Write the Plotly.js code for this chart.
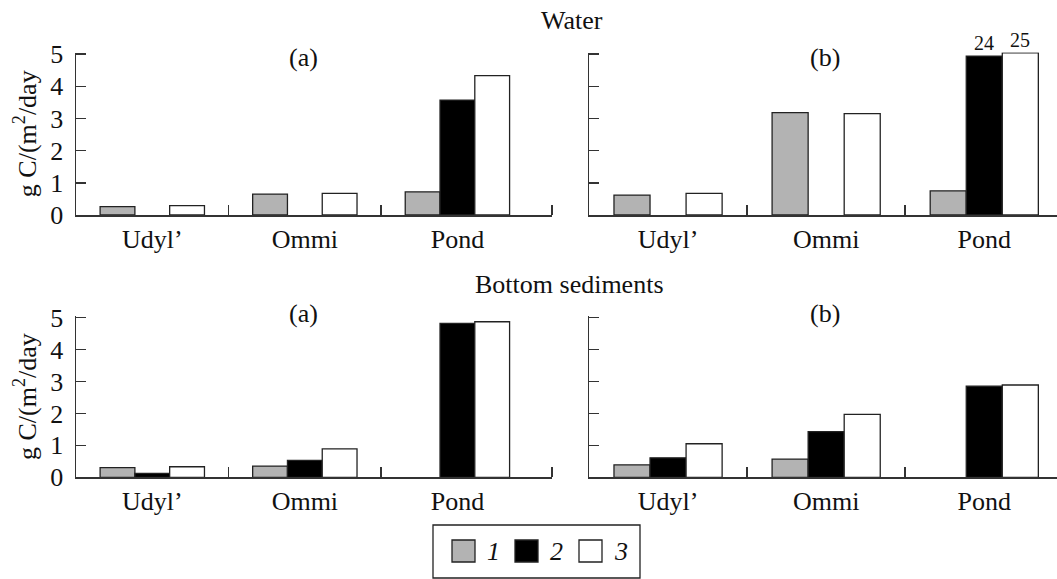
<!DOCTYPE html>
<html>
<head>
<meta charset="utf-8">
<script src="https://cdn.plot.ly/plotly-3.0.1.min.js"></script>
<style>html,body{margin:0;padding:0;background:#fff}#chart{width:1057px;height:579px}</style>
</head>
<body>
<div id="chart"></div>
<script>
// ---- data ----
var categories = ["Udyl\u2019", "Ommi", "Pond"];
var seriesNames = ["1", "2", "3"];

// Water, (a)
var waterA_s1 = [0.26, 0.65, 0.72];
var waterA_s2 = [null, null, 3.57];
var waterA_s3 = [0.29, 0.67, 4.33];
// Water, (b)  (Pond bars 2 and 3 are broken; their true values are labelled)
var waterB_s1 = [0.62, 3.18, 0.75];
var waterB_s2 = [null, null, 4.94];
var waterB_s3 = [0.67, 3.15, 5.04];
var waterB_s2_labels = [null, null, "24"];
var waterB_s3_labels = [null, null, "25"];
// Bottom sediments, (a)
var sedA_s1 = [0.30, 0.35, null];
var sedA_s2 = [0.12, 0.53, 4.82];
var sedA_s3 = [0.33, 0.89, 4.87];
// Bottom sediments, (b)
var sedB_s1 = [0.39, 0.57, null];
var sedB_s2 = [0.61, 1.43, 2.85];
var sedB_s3 = [1.05, 1.97, 2.89];

var yTickVals = [0, 1, 2, 3, 4, 5];
var yTickText = ["0", "1", "2", "3", "4", "5"];

// ---- styles ----
var FONT = '"Liberation Serif", "Times New Roman", serif';
var FS = 26;
var colors = ["#b3b3b3", "#000000", "#ffffff"];
var edge = "#222222";
var BARGAP = 0.316;
var xpos = categories.map(function (c, i) { return i; });

function bar(y, s, xa, ya) {
  return {
    type: "bar", x: xpos, y: y, xaxis: xa, yaxis: ya,
    marker: { color: colors[s], line: { color: edge, width: 1.3 } },
    showlegend: false, cliponaxis: false, hoverinfo: "y"
  };
}

var data = [
  bar(waterA_s1, 0, "x", "y"), bar(waterA_s2, 1, "x", "y"), bar(waterA_s3, 2, "x", "y"),
  bar(waterB_s1, 0, "x2", "y2"), bar(waterB_s2, 1, "x2", "y2"), bar(waterB_s3, 2, "x2", "y2"),
  bar(sedA_s1, 0, "x3", "y3"), bar(sedA_s2, 1, "x3", "y3"), bar(sedA_s3, 2, "x3", "y3"),
  bar(sedB_s1, 0, "x4", "y4"), bar(sedB_s2, 1, "x4", "y4"), bar(sedB_s3, 2, "x4", "y4")
];

var W = 1057, H = 579;
function px(x) { return x / W; }
function py(y) { return (H - y) / H; }

function xaxis(domain, range, minorVals, anchor) {
  return {
    domain: domain, range: range, anchor: anchor, type: "linear",
    tickmode: "array", tickvals: xpos, ticktext: categories, ticks: "",
    minor: { tickmode: "array", tickvals: minorVals, ticks: "inside", ticklen: 10, tickwidth: 1.5, tickcolor: "#333" },
    showline: true, linecolor: "#333", linewidth: 1.5, showgrid: false, zeroline: false,
    tickfont: { family: FONT, size: FS, color: "#111" }, fixedrange: true
  };
}
function yaxis(domain, anchor, labels, title) {
  var a = {
    domain: domain, range: [0, 5.05], anchor: anchor,
    tickmode: "array", tickvals: yTickVals, ticktext: yTickText, showticklabels: labels,
    ticks: "inside", ticklen: 10, tickwidth: 1.5, tickcolor: "#333",
    showline: true, linecolor: "#333", linewidth: 1.5, showgrid: false, zeroline: false,
    tickfont: { family: FONT, size: FS, color: "#111" }, ticklabelstandoff: 6, fixedrange: true
  };
  if (title) a.title = { text: "g C/(m<sup>2</sup>/day", font: { family: FONT, size: FS, color: "#111" }, standoff: 6 };
  return a;
}

var topD = [py(215), py(52.5)];
var botD = [py(477.3), py(316)];
var leftD = [px(76), px(552)];
var rightD = [px(589), 1];

var annFont = { family: FONT, size: FS, color: "#111" };
function ann(text, x, y) {
  return { text: text, xref: "paper", yref: "paper", x: px(x), y: py(y), showarrow: false, xanchor: "center", yanchor: "middle", font: annFont };
}

var annotations = [
  ann("Water", 572, 20), ann("Bottom sediments", 569, 284),
  ann("(a)", 303, 57), ann("(b)", 825, 57),
  ann("(a)", 303, 313), ann("(b)", 825, 313)
];

// value labels over the broken bars in Water (b)
var slot = (1 - BARGAP) / 3;
[[waterB_s2, waterB_s2_labels, 1], [waterB_s3, waterB_s3_labels, 2]].forEach(function (d) {
  d[1].forEach(function (lab, i) {
    if (lab) annotations.push({
      text: lab, xref: "x2", yref: "y2", x: xpos[i] + (d[2] - 1) * slot, y: d[0][i],
      showarrow: false, xanchor: "center", yanchor: "bottom", yshift: 0,
      font: { family: FONT, size: 20, color: "#111" }
    });
  });
});

// legend (drawn manually: large square keys)
var shapes = [{ type: "rect", xref: "paper", yref: "paper", x0: px(433), x1: px(640), y0: py(578), y1: py(525), line: { color: "#222", width: 1.3 }, fillcolor: "rgba(0,0,0,0)" }];
var keyX = [452, 515, 579];
seriesNames.forEach(function (n, i) {
  shapes.push({ type: "rect", xref: "paper", yref: "paper", x0: px(keyX[i]), x1: px(keyX[i] + 23), y0: py(562), y1: py(540), line: { color: edge, width: 1.3 }, fillcolor: colors[i] });
  annotations.push({ text: "<i>" + n + "</i>", xref: "paper", yref: "paper", x: px(keyX[i] + 33), y: py(551), showarrow: false, xanchor: "left", yanchor: "middle", font: annFont });
});

var layout = {
  width: W, height: H, margin: { l: 0, r: 0, t: 0, b: 0 },
  paper_bgcolor: "#fff", plot_bgcolor: "#fff",
  barmode: "group", bargap: BARGAP, bargroupgap: 0,
  font: { family: FONT, size: FS, color: "#111" },
  xaxis: xaxis(leftD, [-0.5, 2.62], [0.5, 1.5, 2.62], "y"),
  yaxis: yaxis(topD, "x", true, true),
  xaxis2: xaxis(rightD, [-0.5, 2.46], [0.5, 1.5], "y2"),
  yaxis2: yaxis(topD, "x2", false, false),
  xaxis3: xaxis(leftD, [-0.5, 2.62], [0.5, 1.5, 2.62], "y3"),
  yaxis3: yaxis(botD, "x3", true, true),
  xaxis4: xaxis(rightD, [-0.5, 2.46], [0.5, 1.5], "y4"),
  yaxis4: yaxis(botD, "x4", false, false),
  annotations: annotations, shapes: shapes, showlegend: false
};

Plotly.newPlot("chart", data, layout, { displayModeBar: false, staticPlot: true });
</script>
</body>
</html>
